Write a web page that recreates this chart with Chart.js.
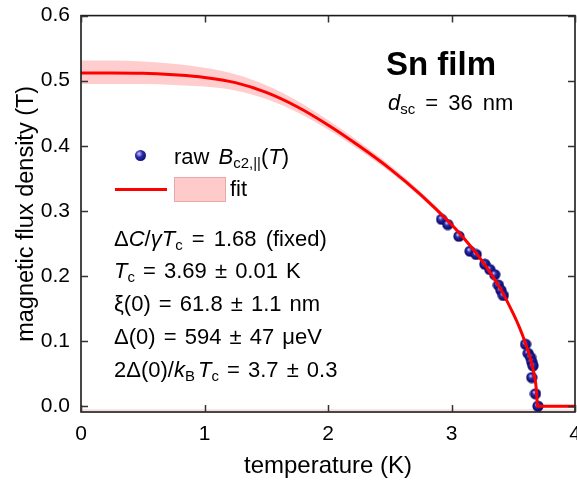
<!DOCTYPE html>
<html>
<head>
<meta charset="utf-8">
<script src="https://cdn.jsdelivr.net/npm/chart.js@4.4.1/dist/chart.umd.min.js"></script>
<style>
  html, body { margin: 0; padding: 0; background: #fff; overflow: hidden; }
  #wrap { position: relative; width: 577px; height: 489px; overflow: hidden; font-family: "Liberation Sans", Arial, sans-serif; color: #000; }
  #wrap canvas { position: absolute; left: 0; top: 0; }
  .note { position: absolute; font-size: 22px; line-height: 22px; white-space: nowrap; word-spacing: 2px; }
  .note i { font-style: italic; }
  .sub { font-size: 0.68em; position: relative; top: 0.3em; word-spacing: 0; }
  .title { font-size: 33px; line-height: 33px; font-weight: bold; word-spacing: 0; }
  .dot { position: absolute; width: 11px; height: 11px; border-radius: 50%;
         background: radial-gradient(circle at 38% 35%, #c8c8ff 0, #2a2aa8 35%, #00005a 100%); }
  .redline { position: absolute; height: 3px; background: #ff0000; }
  .pinkbox { position: absolute; background: #ffcaca; border: 1px solid #e9a9a9; box-sizing: border-box; }
</style>
</head>
<body>
<div id="wrap">
  <canvas id="chart" width="582" height="489"></canvas>

  <div class="note title" style="left:386px; top:47px;">Sn film</div>
  <div class="note" style="left:388px; top:92px; word-spacing:4px;"><i>d</i><span class="sub">sc</span> = 36 nm</div>

  <div class="dot" style="left:135px; top:150px;"></div>
  <div class="note" style="left:174px; top:146px; word-spacing:3px;">raw <i>B</i><span class="sub">c2,||</span>(<i>T</i>)</div>
  <div class="redline" style="left:115px; top:188px; width:52px;"></div>
  <div class="pinkbox" style="left:174px; top:177px; width:52px; height:25px;"></div>
  <div class="note" style="left:230px; top:178px;">fit</div>

  <div class="note" style="left:114px; top:228px; word-spacing:3px;">&Delta;<i>C</i>/<i>&gamma;T</i><span class="sub">c</span> = 1.68 (fixed)</div>
  <div class="note" style="left:114px; top:260px;"><i>T</i><span class="sub">c</span> = 3.69 &plusmn; 0.01 K</div>
  <div class="note" style="left:114px; top:293px;">&xi;(0) = 61.8 &plusmn; 1.1 nm</div>
  <div class="note" style="left:114px; top:326px;">&Delta;(0) = 594 &plusmn; 47 &mu;eV</div>
  <div class="note" style="left:114px; top:359px;">2&Delta;(0)/<i>k</i><span class="sub" style="margin-right:3px;">B</span><i>T</i><span class="sub">c</span> = 3.7 &plusmn; 0.3</div>
</div>

<script>
// measured Bc2,|| (T) points
const dataT = [2.92, 2.97, 3.06, 3.15, 3.20, 3.27, 3.31, 3.35, 3.38, 3.40, 3.42, 3.60, 3.62, 3.64, 3.65, 3.66, 3.65, 3.68, 3.70];
const dataB = [0.287, 0.279, 0.261, 0.238, 0.233, 0.218, 0.210, 0.202, 0.186, 0.178, 0.170, 0.095, 0.081, 0.075, 0.068, 0.062, 0.044, 0.019, 0.0];

// fit curve and its uncertainty band
const fitT = [0, 0.25, 0.5, 0.75, 1.0, 1.25, 1.5, 1.75, 2.0, 2.25, 2.5, 2.75, 3.0, 3.1, 3.2, 3.3, 3.4, 3.5, 3.55, 3.6, 3.65, 3.68, 3.69, 3.695, 4.0];
const fitB = [0.512, 0.512, 0.5115, 0.509, 0.505, 0.497, 0.482, 0.460, 0.432, 0.400, 0.365, 0.325, 0.279, 0.258, 0.235, 0.209, 0.179, 0.142, 0.121, 0.096, 0.065, 0.037, 0.018, 0.0, 0.0];
const bandUpper = [0.531, 0.531, 0.5295, 0.526, 0.520, 0.510, 0.493, 0.469, 0.4395, 0.4065, 0.3705, 0.3295, 0.283, 0.2615, 0.2385, 0.2125, 0.1825, 0.145, 0.124, 0.099, 0.068, 0.040, 0.020, 0.002, 0.002];
const bandLower = [0.495, 0.495, 0.495, 0.4935, 0.491, 0.485, 0.472, 0.4515, 0.425, 0.394, 0.360, 0.3205, 0.275, 0.2545, 0.2315, 0.2055, 0.1755, 0.139, 0.118, 0.093, 0.062, 0.034, 0.016, -0.002, -0.002];

// faint line along the bottom
const baseT = [0, 4];
const baseB = [-0.006, -0.006];

const xTicks = [0, 1, 2, 3, 4];
const yTicks = [0.0, 0.1, 0.2, 0.3, 0.4, 0.5, 0.6];

const pts = (xs, ys) => xs.map((x, i) => ({ x: x, y: ys[i] }));

// shaded ball marker
const ball = document.createElement("canvas");
ball.width = 12;
ball.height = 12;
const bctx = ball.getContext("2d");
const grad = bctx.createRadialGradient(4.5, 4.2, 0.3, 6, 6, 6);
grad.addColorStop(0, "#c8c8ff");
grad.addColorStop(0.35, "#2a2aa8");
grad.addColorStop(1, "#00005a");
bctx.fillStyle = grad;
bctx.beginPath();
bctx.arc(6, 6, 5.6, 0, Math.PI * 2);
bctx.fill();

// box frame with inward ticks
const framePlugin = {
  id: "frame",
  afterDatasetsDraw(chart) {
    const { ctx, chartArea: a, scales } = chart;
    const x = scales.x, y = scales.y;
    ctx.save();
    ctx.strokeStyle = "#1a1a1a";
    ctx.lineWidth = 1.6;
    ctx.strokeRect(a.left, a.top, a.right - a.left, a.bottom - a.top);
    ctx.strokeStyle = "#333";
    ctx.lineWidth = 1.5;
    ctx.beginPath();
    xTicks.forEach((t) => {
      const px = Math.round(x.getPixelForValue(t)) + 0.5;
      ctx.moveTo(px, a.bottom);
      ctx.lineTo(px, a.bottom - 7);
      ctx.moveTo(px, a.top);
      ctx.lineTo(px, a.top + 7);
    });
    yTicks.forEach((t) => {
      const py = Math.round(y.getPixelForValue(t)) + 0.5;
      ctx.moveTo(a.left, py);
      ctx.lineTo(a.left + 7, py);
      ctx.moveTo(a.right, py);
      ctx.lineTo(a.right - 7, py);
    });
    ctx.stroke();
    ctx.restore();
  },
};

const font = "'Liberation Sans', Arial, sans-serif";

new Chart(document.getElementById("chart"), {
  type: "scatter",
  data: {
    datasets: [
      {
        label: "fit",
        data: pts(fitT, fitB),
        showLine: true,
        borderColor: "#ff0000",
        borderWidth: 3,
        pointRadius: 0,
        cubicInterpolationMode: "monotone",
        order: 0,
      },
      {
        label: "raw",
        data: pts(dataT, dataB),
        pointStyle: ball,
        pointRadius: 6,
        order: 1,
      },
      {
        label: "band upper",
        data: pts(fitT, bandUpper),
        showLine: true,
        borderWidth: 0,
        borderColor: "rgba(0,0,0,0)",
        backgroundColor: "#ffcdcd",
        pointRadius: 0,
        cubicInterpolationMode: "monotone",
        fill: "+1",
        order: 2,
      },
      {
        label: "band lower",
        data: pts(fitT, bandLower),
        showLine: true,
        borderWidth: 0,
        borderColor: "rgba(0,0,0,0)",
        pointRadius: 0,
        cubicInterpolationMode: "monotone",
        order: 3,
      },
      {
        label: "base",
        data: pts(baseT, baseB),
        showLine: true,
        borderColor: "#f3c4c4",
        borderWidth: 1,
        pointRadius: 0,
        order: 4,
      },
    ],
  },
  options: {
    responsive: false,
    animation: false,
    layout: { padding: { top: 15, left: 0, right: 0, bottom: 0 } },
    plugins: { legend: { display: false }, tooltip: { enabled: false } },
    scales: {
      x: {
        type: "linear",
        min: 0,
        max: 4,
        afterBuildTicks: (s) => { s.ticks = xTicks.map((v) => ({ value: v })); },
        afterFit: (s) => { s.height = 77; s.paddingRight = 2; },
        grid: { display: false },
        border: { display: false },
        ticks: { color: "#000", font: { family: font, size: 21 }, padding: 2, maxRotation: 0 },
        title: {
          display: true,
          text: "temperature (K)",
          color: "#000",
          font: { family: font, size: 24 },
          padding: { top: 0, bottom: 8 },
        },
      },
      y: {
        min: -0.009,
        max: 0.6,
        afterBuildTicks: (s) => { s.ticks = yTicks.map((v) => ({ value: v })); },
        afterFit: (s) => { s.width = 81; },
        grid: { display: false },
        border: { display: false },
        ticks: {
          color: "#000",
          font: { family: font, size: 21 },
          padding: 3,
          callback: (v) => Number(v).toFixed(1),
        },
        title: {
          display: true,
          text: "magnetic flux density (T)",
          color: "#000",
          font: { family: font, size: 23.5 },
          padding: { top: 12, bottom: 0 },
        },
      },
    },
  },
  plugins: [framePlugin],
});
</script>
</body>
</html>
